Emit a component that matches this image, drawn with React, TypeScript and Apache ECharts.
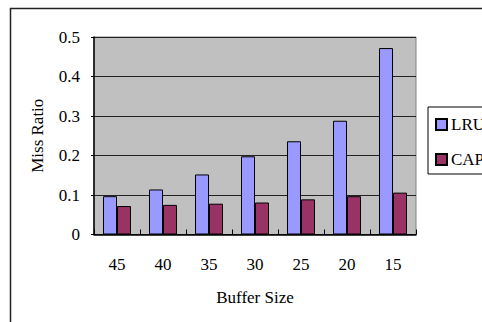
import React, { useEffect, useRef } from "react";
import * as echarts from "echarts";

const categories = ["45", "40", "35", "30", "25", "20", "15"];
const lruValues = [0.097, 0.114, 0.152, 0.198, 0.236, 0.288, 0.472];
const capValues = [0.072, 0.075, 0.078, 0.081, 0.089, 0.097, 0.106];
const seriesNames = ["LRU", "CAP"];

const FONT = "'Liberation Serif', 'DejaVu Serif', serif";

export default function App() {
  const ref = useRef<HTMLDivElement>(null);
  useEffect(() => {
    if (!ref.current) return;
    const chart = echarts.init(ref.current, undefined, { renderer: "svg" });
    chart.setOption({
      animation: false,
      backgroundColor: "#ffffff",
      textStyle: { fontFamily: FONT, color: "#000" },
      grid: {
        left: 94,
        top: 37,
        width: 322,
        height: 197.5,
        show: true,
        backgroundColor: "#C0C0C0",
        borderColor: "#808080",
        borderWidth: 1,
      },
      legend: {
        orient: "vertical",
        left: 428,
        top: 107,
        padding: [9, 20, 6, 7],
        itemWidth: 11,
        itemHeight: 11,
        itemGap: 18,
        icon: "rect",
        borderColor: "#000",
        borderWidth: 1,
        textStyle: { fontFamily: FONT, fontSize: 17, color: "#000", padding: [0, 0, 0, -1] },
        data: seriesNames,
      },
      xAxis: {
        type: "category",
        data: categories,
        name: "Buffer Size",
        nameLocation: "middle",
        nameGap: 54,
        nameTextStyle: { fontFamily: FONT, fontSize: 17, color: "#000" },
        axisLine: { lineStyle: { color: "#000", width: 1.5 } },
        axisTick: { show: true, inside: true, length: 5, lineStyle: { color: "#000" } },
        axisLabel: { fontFamily: FONT, fontSize: 17, color: "#000", margin: 21 },
      },
      yAxis: {
        type: "value",
        min: 0,
        max: 0.5,
        interval: 0.1,
        name: "Miss Ratio",
        nameLocation: "middle",
        nameGap: 48,
        nameTextStyle: { fontFamily: FONT, fontSize: 17, color: "#000" },
        axisLine: { show: true, lineStyle: { color: "#000", width: 1.5 } },
        axisTick: { show: true, length: 3, lineStyle: { color: "#000" } },
        axisLabel: { fontFamily: FONT, fontSize: 17, color: "#000", margin: 14 },
        splitLine: { show: true, lineStyle: { color: "#222", width: 1.2 } },
      },
      series: [
        {
          name: seriesNames[0],
          type: "bar",
          data: lruValues,
          barWidth: 14,
          barGap: "0%",
          itemStyle: { color: "#9999FF", borderColor: "#000", borderWidth: 1 },
        },
        {
          name: seriesNames[1],
          type: "bar",
          data: capValues,
          barWidth: 14,
          barGap: "0%",
          itemStyle: { color: "#993366", borderColor: "#000", borderWidth: 1 },
        },
      ],
      graphic: [
        {
          type: "rect",
          shape: { x: 10.5, y: 8.5, width: 600, height: 400 },
          style: { fill: "none", stroke: "#222", lineWidth: 1.5 },
          silent: true,
        },
      ],
    });
    return () => chart.dispose();
  }, []);
  return (
    <div
      ref={ref}
      style={{ position: "absolute", left: 0, top: 0, width: 482, height: 322 }}
    />
  );
}
